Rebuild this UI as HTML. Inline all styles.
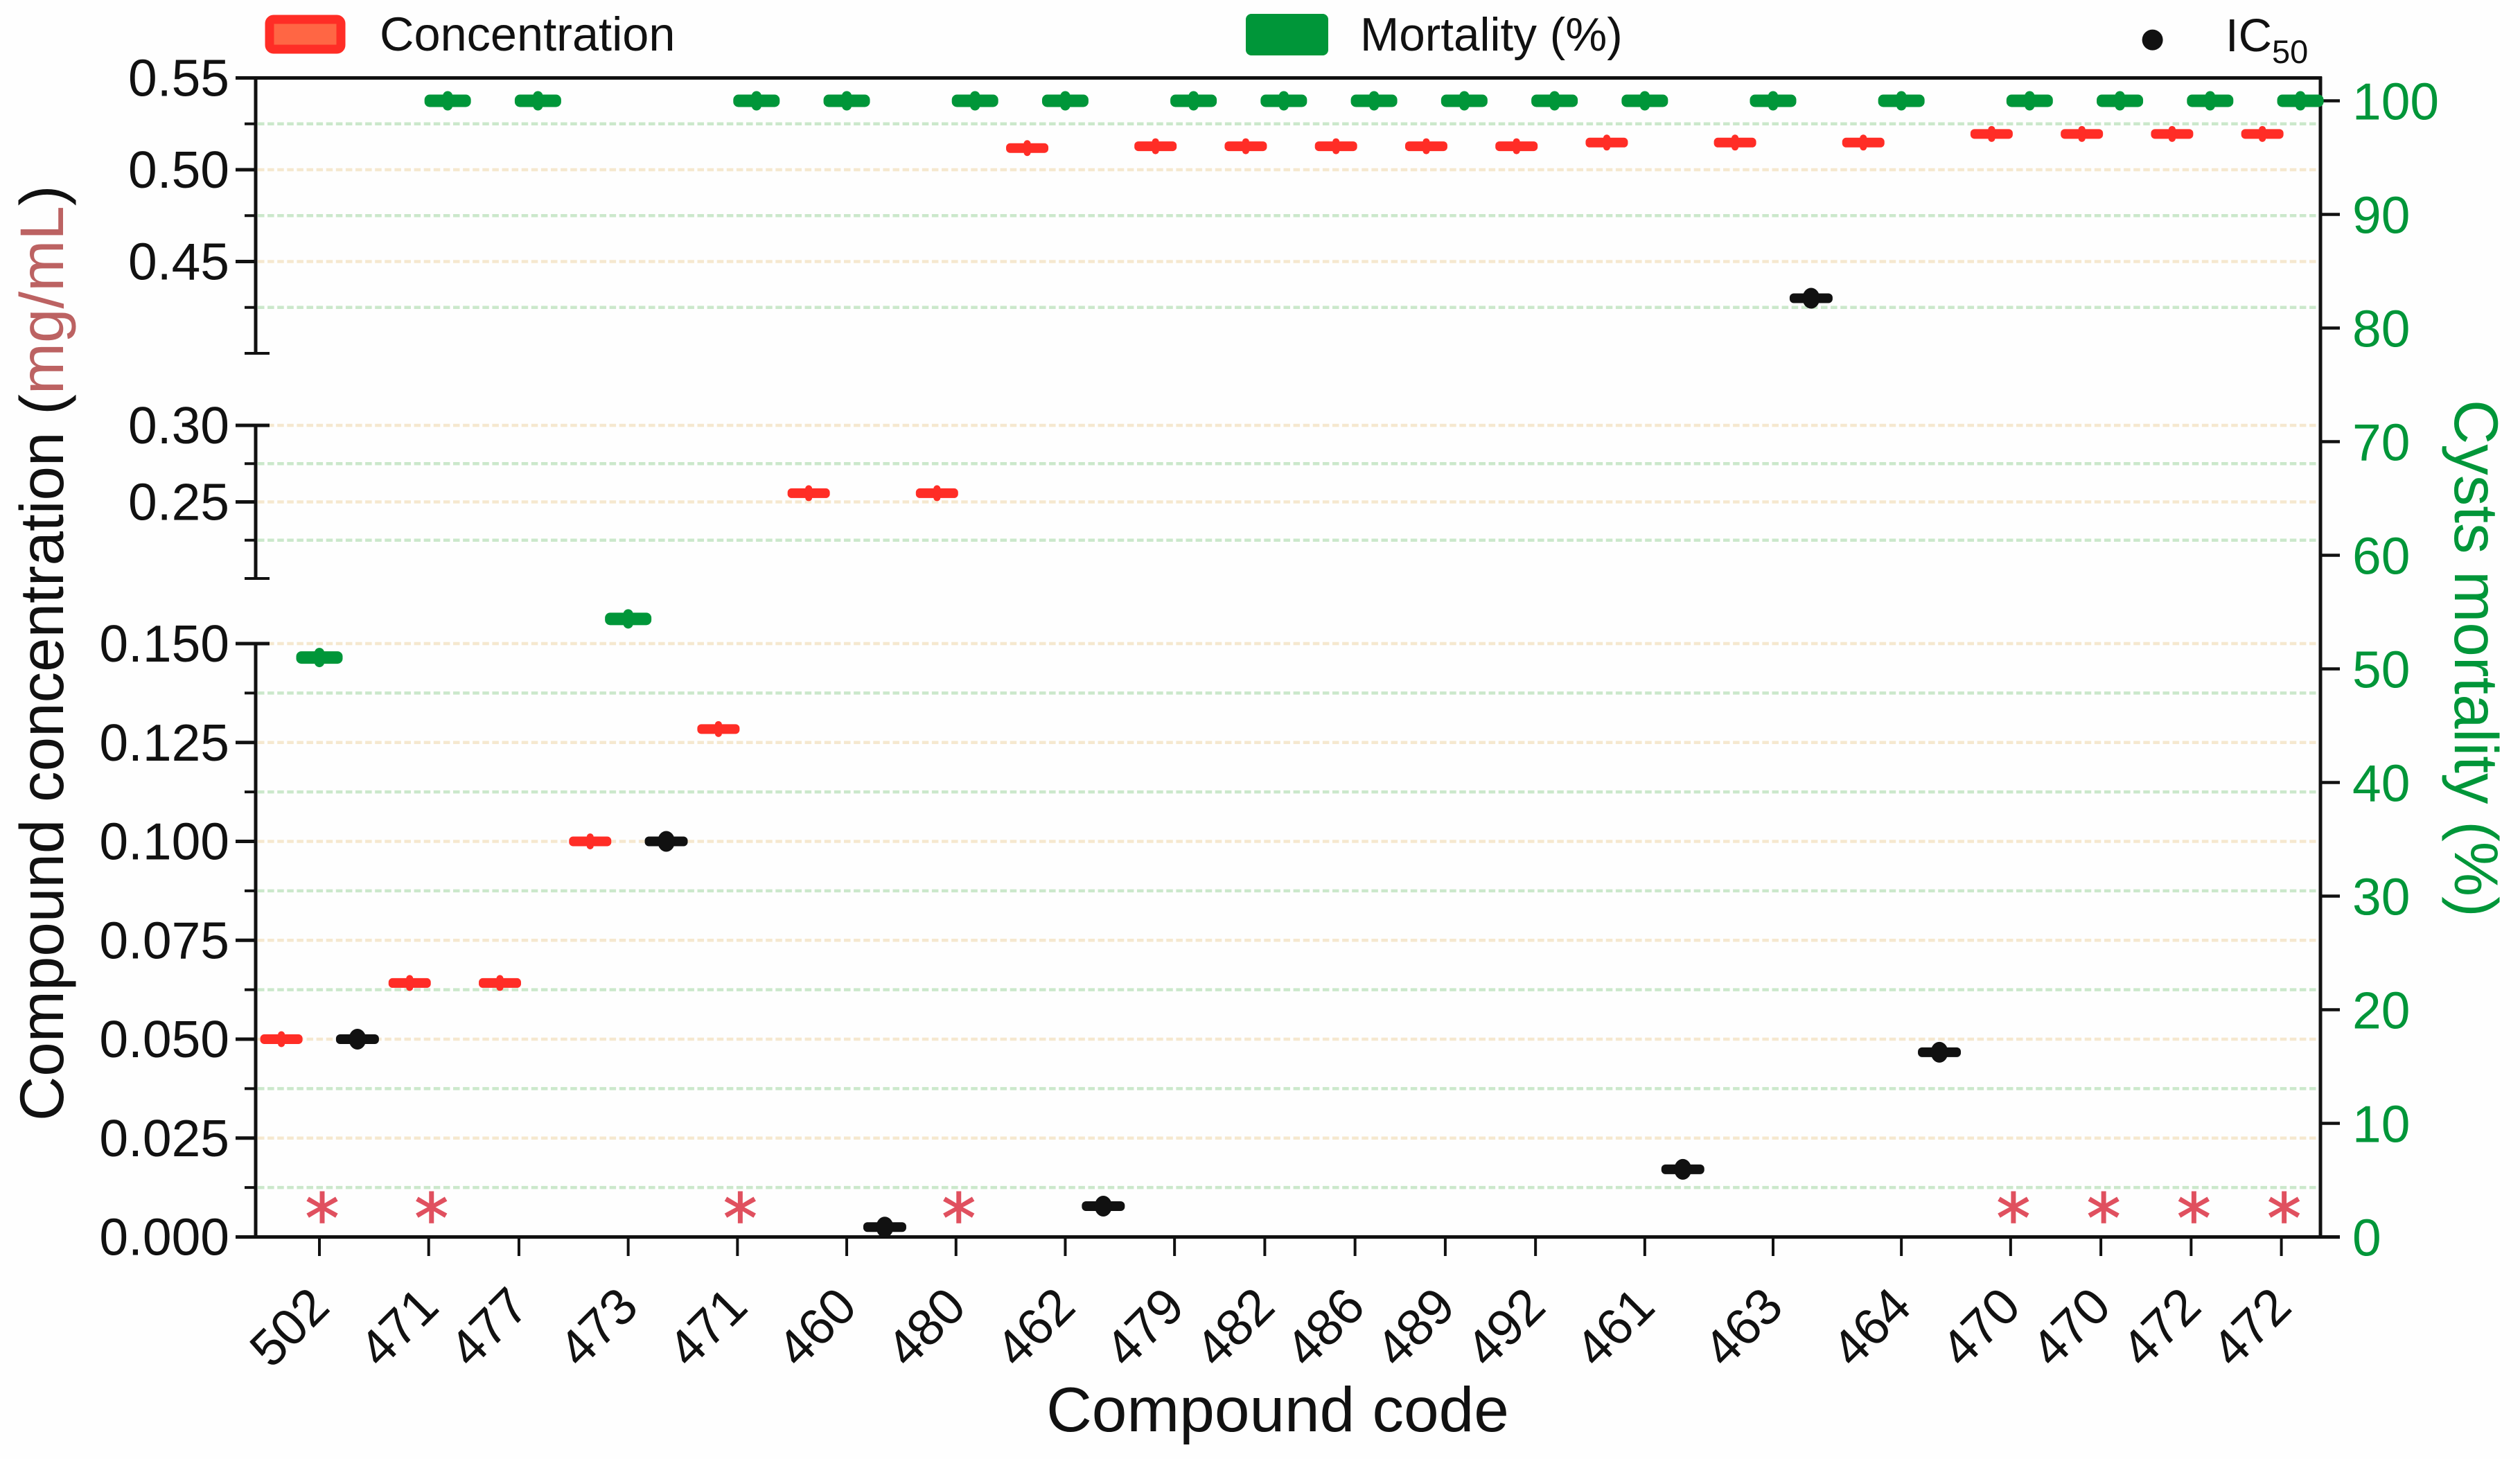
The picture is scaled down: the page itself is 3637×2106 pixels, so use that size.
<!DOCTYPE html>
<html lang="en">
<head>
<meta charset="utf-8">
<title>Compound concentration and cyst mortality</title>
<style>
html,body{margin:0;padding:0;background:#fefefe;}
svg{display:block;}
text{font-family:"Liberation Sans",Arial,sans-serif;fill:#111;}
</style>
</head>
<body>
<svg id="chart" xmlns="http://www.w3.org/2000/svg" width="3637" height="2106" viewBox="0 0 3637 2106">
  <rect x="0" y="0" width="3637" height="2106" fill="#fefefe"/>
  <g id="grid"></g>
  <g id="axes"></g>
  <g id="marks"></g>

  <g>
    <g>
      <rect x="389" y="28" width="103" height="43" rx="6" fill="#ff6644" stroke="#ff2d26" stroke-width="13"/>
      <text x="548" y="73" font-size="68.5">Concentration</text>
    </g>
    <g>
      <rect x="1798" y="20" width="119" height="60" rx="8" fill="#009639"/>
      <text x="1963" y="73" font-size="67.5">Mortality (%)</text>
    </g>
    <g>
      <circle cx="3106.6" cy="57.6" r="15" fill="#111"/>
      <text x="3212" y="74" font-size="67">IC<tspan font-size="47" dy="17">50</tspan></text>
    </g>
  </g>

  <text transform="translate(91,1618) rotate(-90)" font-size="89">Compound concentration (<tspan fill="#bc6262">mg/mL</tspan>)</text>
  <text transform="translate(3543,577) rotate(90)" font-size="89">
    <tspan style="fill:#009639">Cysts mortality (%)</tspan></text>
  <text x="1844" y="2066" font-size="91" text-anchor="middle">Compound code</text>
</svg>

<script>
// ---- data ----
const categories = ['502','471','477','473','471','460','480','462','479','482','486','489','492','461','463','464','470','470','472','472'];
const concentration = [0.05,0.0642,0.0642,0.1,0.1284,0.2557,0.2557,0.5118,0.5128,0.5128,0.5128,0.5128,0.5128,0.5148,0.5148,0.5148,0.5195,0.5195,0.5195,0.5195];
const mortality = [51,100,100,54.4,100,100,100,100,100,100,100,100,100,100,100,100,100,100,100,100];
const ic50 = [0.05,null,null,0.1,null,0.0025,null,0.0078,null,null,null,null,null,0.0171,0.43,0.0467,null,null,null,null];
const significant = [1,1,0,0,1,0,1,0,0,0,0,0,0,0,0,0,1,1,1,1];
const leftTickLabels = ['0.000','0.025','0.050','0.075','0.100','0.125','0.150','0.25','0.30','0.45','0.50','0.55'];
const leftMinorTicks = [0.0125,0.0375,0.0625,0.0875,0.1125,0.1375,0.225,0.275,0.425,0.475,0.525];
const leftBandEnds = [0.2,0.4];
const rightTickLabels = ['0','10','20','30','40','50','60','70','80','90','100'];

// ---- scales ----
const plotLeft = 369, plotRight = 3349, plotTop = 112.5, plotBottom = 1785.5;
const slotWidth = 54.9, groupGap = 20.45, firstGroupLeft = 378.65;
const axisBands = [
  {lo:0, hi:0.15, bottom:1785.5, top:929},
  {lo:0.2, hi:0.3, bottom:835, top:614},
  {lo:0.4, hi:0.55, bottom:510, top:112.5}
];
function yLeft(v){
  for (const b of axisBands){
    if (v >= b.lo - 1e-9 && v <= b.hi + 1e-9){
      return b.bottom + (v - b.lo) / (b.hi - b.lo) * (b.top - b.bottom);
    }
  }
  return plotBottom;
}
function yRight(v){ return plotBottom - v * 16.4; }

// groups are as wide as the number of series they actually contain
function groupLayout(){
  const out = [];
  let left = firstGroupLeft;
  categories.forEach(function(name, i){
    const present = [concentration[i], mortality[i], ic50[i]];
    const n = present.filter(function(v){ return v !== null; }).length;
    let k = 0;
    const slots = present.map(function(v){
      if (v === null) return null;
      const x = left + (k + 0.5) * slotWidth;
      k++;
      return x;
    });
    out.push({center: left + n * slotWidth / 2, slots: slots});
    left += n * slotWidth + groupGap;
  });
  return out;
}

const NS = 'http://www.w3.org/2000/svg';
const gridLayer = document.getElementById('grid');
const axesLayer = document.getElementById('axes');
const marksLayer = document.getElementById('marks');
function node(parent, tag, attrs, text){
  const el = document.createElementNS(NS, tag);
  for (const key in attrs) el.setAttribute(key, attrs[key]);
  if (text !== undefined) el.textContent = text;
  parent.appendChild(el);
  return el;
}
function axisLine(x1, y1, x2, y2, w){
  const el = node(axesLayer, 'line', {x1:x1, y1:y1, x2:x2, y2:y2, stroke:'#111', 'stroke-width':w});
  
  return el;
}
function gridLine(y, color){
  const el = node(gridLayer, 'line', {x1:plotLeft + 3, y1:y, x2:plotRight - 3, y2:y, stroke:color, 'stroke-width':4.5, 'stroke-dasharray':'9.5 4.6'});
  
  
}

// ---- gridlines ----
leftTickLabels.forEach(function(label){
  const v = parseFloat(label);
  if (v > 0 && v < 0.55) gridLine(yLeft(v), '#f5e8cf');
});
leftMinorTicks.forEach(function(v){ gridLine(yLeft(v), '#cbe8cb'); });

// ---- frame ----
let frame = axisLine(340, plotTop, plotRight + 2, plotTop, 5);

frame = axisLine(340, plotBottom, 3377, plotBottom, 5);

frame = axisLine(plotRight, plotTop - 2, plotRight, plotBottom, 5);

axisBands.forEach(function(b){
  const seg = axisLine(plotLeft, b.top, plotLeft, b.bottom, 5);
  
});

// ---- left axis ticks ----
leftTickLabels.forEach(function(label){
  const v = parseFloat(label);
  const y = yLeft(v);
  const isBandTop = axisBands.some(function(b){ return b.hi === v && b.top !== plotTop; });
  const tick = axisLine(340, y, isBandTop ? 389 : plotLeft, y, 5);
  
  const t = node(axesLayer, 'text', {x:331, y:y + 26, 'font-size':75, 'text-anchor':'end'}, label);
  
  
});
leftMinorTicks.forEach(function(v){
  const tick = axisLine(353, yLeft(v), plotLeft, yLeft(v), 4);
  
});
leftBandEnds.forEach(function(v){
  const tick = axisLine(353, yLeft(v), 389, yLeft(v), 4);
  
});

// ---- right axis ticks ----
rightTickLabels.forEach(function(label){
  const y = yRight(parseFloat(label));
  const tick = axisLine(plotRight, y, 3377, y, 4.5);
  
  const t = node(axesLayer, 'text', {x:3395, y:y + 27, 'font-size':75, style:'fill:#009639'}, label);
  
  
});

// ---- marks ----
function dash(group, x, y, w, h, bumpW, bumpH, color){
  node(group, 'rect', {x:x - w / 2, y:y - h / 2, width:w, height:h, rx:h / 2.4, fill:color});
  node(group, 'rect', {x:x - bumpW / 2, y:y - bumpH / 2, width:bumpW, height:bumpH, rx:bumpW / 2, fill:color});
}
const layout = groupLayout();
categories.forEach(function(name, i){
  const g = layout[i];
  const tick = axisLine(g.center, plotBottom, g.center, 1813, 4);
  
  const t = node(axesLayer, 'text', {transform:'translate(' + (g.center + 18) + ',1890) rotate(-45)', 'font-size':74, 'text-anchor':'end'}, name);
  
  

  if (concentration[i] !== null){
    const m = node(marksLayer, 'g', {});
    
    
    dash(m, g.slots[0], yLeft(concentration[i]), 61, 14, 10, 23, '#ff2d26');
  }
  if (mortality[i] !== null){
    const m = node(marksLayer, 'g', {});
    
    
    dash(m, g.slots[1], yRight(mortality[i]), 67, 18, 14, 28, '#009639');
  }
  if (ic50[i] !== null){
    const m = node(marksLayer, 'g', {});
    
    
    const cx = g.slots[2];
    const cy = yLeft(ic50[i]);
    node(m, 'rect', {x:cx - 31, y:cy - 7, width:62, height:14, rx:6, fill:'#111'});
    node(m, 'ellipse', {cx:cx, cy:cy, rx:12.5, ry:15, fill:'#111'});
  }
  if (significant[i]){
    const s = node(marksLayer, 'text', {x:g.center + 4, y:1793, 'font-size':98, 'text-anchor':'middle', stroke:'#e0505f', 'stroke-width':1.5, style:'fill:#e0505f;font-family:\'DejaVu Sans\',sans-serif'}, '*');
    
    
  }
});
</script>
</body>
</html>
